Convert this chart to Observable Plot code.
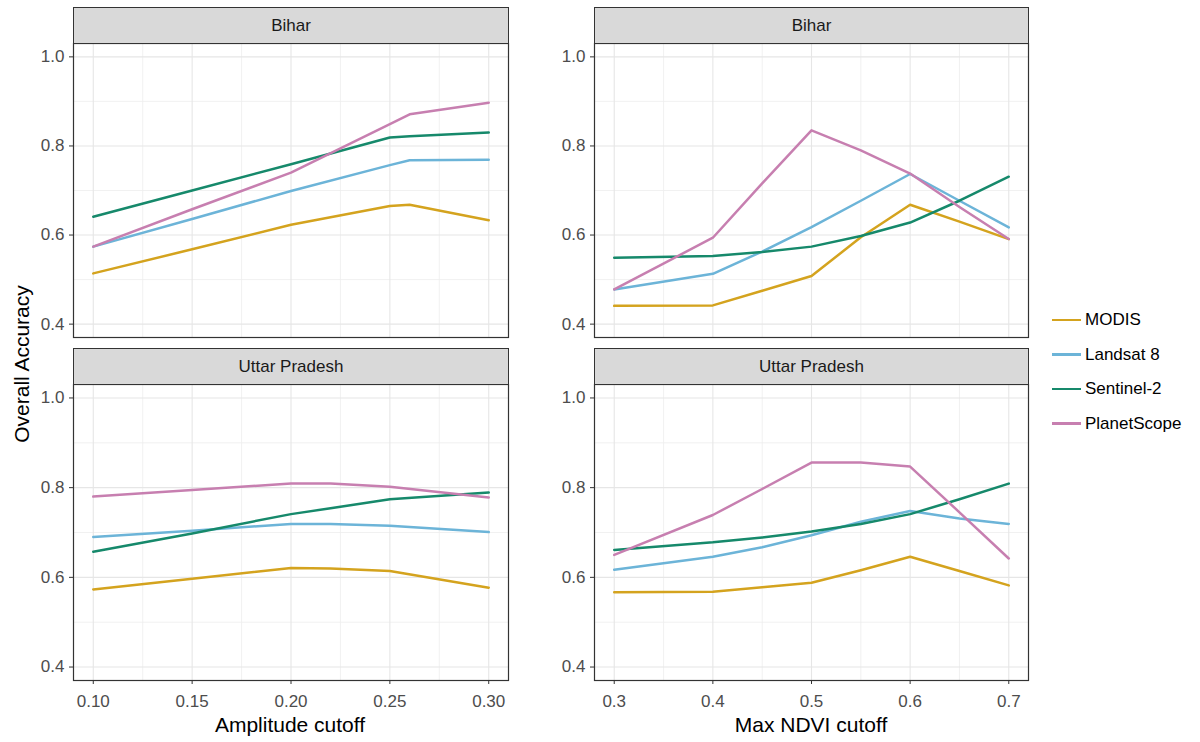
<!DOCTYPE html>
<html><head><meta charset="utf-8">
<script src="https://cdn.jsdelivr.net/npm/d3@7"></script>
<script src="https://cdn.jsdelivr.net/npm/@observablehq/plot@0.6"></script>
<style>
body{margin:0;background:#fff;}
#root{position:relative;width:1200px;height:742px;font-family:"Liberation Sans",Arial,sans-serif;overflow:hidden;background:#fff;}
.strip{position:absolute;background:#d9d9d9;border:1px solid #333;box-sizing:border-box;display:flex;align-items:center;justify-content:center;font-size:17px;color:#1a1a1a;}
.abs{position:absolute;white-space:nowrap;}
</style></head><body><div id="root"></div>
<script>
// ---- data ----
const series = ["MODIS", "Landsat 8", "Sentinel-2", "PlanetScope"];
const colors = ["#d4a31e", "#6cb4d8", "#16896b", "#c77fb0"];
const regions = ["Bihar", "Uttar Pradesh"];

const yTicks = [0.4, 0.6, 0.8, 1.0];
const yMinor = [0.5, 0.7, 0.9];
const ampTicks = [0.10, 0.15, 0.20, 0.25, 0.30];
const ampMinor = [0.125, 0.175, 0.225, 0.275];
const ndviTicks = [0.3, 0.4, 0.5, 0.6, 0.7];
const ndviMinor = [0.35, 0.45, 0.55, 0.65];

// Bihar – Amplitude cutoff
const biharAmpX = [0.10, 0.15, 0.20, 0.25, 0.26, 0.30];
const biharAmpMODIS = [0.514, 0.568, 0.623, 0.665, 0.668, 0.633];
const biharAmpLandsat = [0.574, 0.636, 0.699, 0.757, 0.768, 0.769];
const biharAmpSentinel = [0.641, 0.700, 0.759, 0.819, 0.822, 0.830];
const biharAmpPlanet = [0.574, 0.658, 0.740, 0.849, 0.871, 0.897];

// Uttar Pradesh – Amplitude cutoff
const upAmpX = [0.10, 0.15, 0.20, 0.22, 0.25, 0.30];
const upAmpMODIS = [0.573, 0.597, 0.621, 0.620, 0.614, 0.577];
const upAmpLandsat = [0.690, 0.704, 0.719, 0.719, 0.715, 0.701];
const upAmpSentinel = [0.657, 0.698, 0.741, 0.754, 0.774, 0.789];
const upAmpPlanet = [0.780, 0.795, 0.809, 0.809, 0.802, 0.778];

// Bihar – Max NDVI cutoff
const biharNdviX = [0.3, 0.4, 0.45, 0.5, 0.55, 0.6, 0.65, 0.7];
const biharNdviMODIS = [0.441, 0.442, 0.475, 0.508, 0.595, 0.668, 0.630, 0.591];
const biharNdviLandsat = [0.478, 0.513, 0.563, 0.618, 0.677, 0.737, 0.677, 0.617];
const biharNdviSentinel = [0.549, 0.553, 0.562, 0.574, 0.598, 0.628, 0.677, 0.731];
const biharNdviPlanet = [0.478, 0.594, 0.716, 0.835, 0.790, 0.738, 0.663, 0.591];

// Uttar Pradesh – Max NDVI cutoff
const upNdviX = [0.3, 0.4, 0.45, 0.5, 0.55, 0.6, 0.65, 0.7];
const upNdviMODIS = [0.567, 0.568, 0.578, 0.588, 0.616, 0.646, 0.614, 0.582];
const upNdviLandsat = [0.617, 0.646, 0.667, 0.694, 0.724, 0.748, 0.731, 0.719];
const upNdviSentinel = [0.661, 0.678, 0.689, 0.702, 0.719, 0.741, 0.774, 0.809];
const upNdviPlanet = [0.650, 0.739, 0.797, 0.856, 0.856, 0.847, 0.745, 0.642];

const xTitles = ["Amplitude cutoff", "Max NDVI cutoff"];
const yTitle = "Overall Accuracy";

// ---- layout ----
const root = document.getElementById("root");
const FONT = '"Liberation Sans", Arial, sans-serif';

function panel(o) {
  const rows = [];
  series.forEach((s, i) => o.xs.forEach((x, j) => {
    const v = o.ys[i][j];
    if (v != null) rows.push({series: s, x, y: v});
  }));
  const mt = 2, mb = o.bottom ? 34 : 2, ml = o.frameLeft - o.left, mr = 3;
  const marks = [
    Plot.ruleY(yMinor, {stroke: "#ededed", strokeWidth: 0.8}),
    Plot.ruleX(o.xMinor, {stroke: "#ededed", strokeWidth: 0.8}),
    Plot.ruleY(yTicks, {stroke: "#e6e6e6", strokeWidth: 1.1}),
    Plot.ruleX(o.xMajor, {stroke: "#e6e6e6", strokeWidth: 1.1}),
    Plot.line(rows, {x: "x", y: "y", z: "series", stroke: "series", strokeWidth: 2.5, strokeLinejoin: "round"}),
    Plot.frame({stroke: "#333", strokeWidth: 1.2}),
    Plot.axisY(yTicks, {tickSize: 4, tickPadding: 5, tickFormat: d => d.toFixed(1), fontSize: 17, stroke: "#333", fill: "#4d4d4d", label: null})
  ];
  if (o.bottom) {
    marks.push(Plot.axisX(o.xMajor, {tickSize: 4, tickPadding: 10, tickFormat: d => d.toFixed(o.digits), fontSize: 17, stroke: "#333", fill: "#4d4d4d", label: null}));
  }
  const svg = Plot.plot({
    width: ml + o.frameW + mr,
    height: mt + o.frameH + mb,
    marginLeft: ml, marginRight: mr, marginTop: mt, marginBottom: mb,
    style: {fontFamily: FONT, fontSize: "17px", background: "transparent", overflow: "visible"},
    x: Object.assign({domain: o.xDomain}, o.bottom ? {} : {axis: null}),
    y: {domain: [0.37, 1.03]},
    color: {domain: series, range: colors},
    marks
  });
  svg.style.position = "absolute";
  svg.style.left = o.left + "px";
  svg.style.top = (o.frameTop - mt) + "px";
  root.appendChild(svg);

  const strip = document.createElement("div");
  strip.className = "strip";
  strip.style.left = o.frameLeft + "px";
  strip.style.top = o.stripTop + "px";
  strip.style.width = (o.frameW + 1) + "px";
  strip.style.height = (o.frameTop - o.stripTop + 1) + "px";
  strip.textContent = o.label;
  root.appendChild(strip);
}

const cols = [
  {left: 0, frameLeft: 73, frameW: 435, xDomain: [0.09, 0.31], xMajor: ampTicks, xMinor: ampMinor, digits: 2},
  {left: 530, frameLeft: 594, frameW: 434, xDomain: [0.28, 0.72], xMajor: ndviTicks, xMinor: ndviMinor, digits: 1}
];
const rowsL = [
  {stripTop: 7, frameTop: 43, frameH: 294, bottom: false},
  {stripTop: 348, frameTop: 384, frameH: 296, bottom: true}
];
const panelData = [
  [{xs: biharAmpX, ys: [biharAmpMODIS, biharAmpLandsat, biharAmpSentinel, biharAmpPlanet]},
   {xs: biharNdviX, ys: [biharNdviMODIS, biharNdviLandsat, biharNdviSentinel, biharNdviPlanet]}],
  [{xs: upAmpX, ys: [upAmpMODIS, upAmpLandsat, upAmpSentinel, upAmpPlanet]},
   {xs: upNdviX, ys: [upNdviMODIS, upNdviLandsat, upNdviSentinel, upNdviPlanet]}]
];
rowsL.forEach((r, ri) => cols.forEach((c, ci) => {
  panel(Object.assign({}, c, r, panelData[ri][ci], {label: regions[ri]}));
}));

// axis titles
function addText(txt, css) {
  const d = document.createElement("div");
  d.className = "abs";
  d.textContent = txt;
  Object.assign(d.style, css);
  root.appendChild(d);
  return d;
}
[[290, xTitles[0]], [811, xTitles[1]]].forEach(([cx, t]) => {
  addText(t, {left: (cx - 150) + "px", width: "300px", textAlign: "center", top: "713px", fontSize: "21px", color: "#000"});
});
addText(yTitle, {left: "-128px", width: "300px", textAlign: "center", top: "352px", fontSize: "21px", color: "#000", transform: "rotate(-90deg)", transformOrigin: "150px 12px", lineHeight: "24px"});

// legend
series.forEach((s, i) => {
  const y = 320 + 34.5 * i;
  const sw = document.createElement("div");
  sw.className = "abs";
  Object.assign(sw.style, {left: "1052px", top: (y - 1.25) + "px", width: "29px", height: "2.5px", background: colors[i]});
  root.appendChild(sw);
  addText(s, {left: "1085px", top: (y - 10) + "px", fontSize: "17px", lineHeight: "20px", color: "#000"});
});
</script></body></html>
